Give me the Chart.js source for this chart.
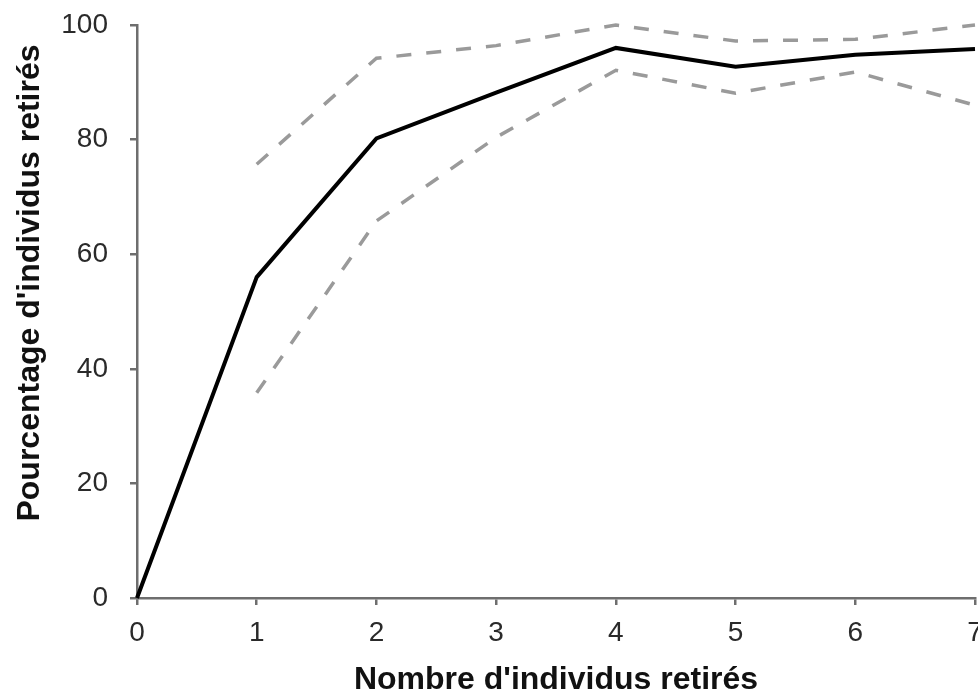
<!DOCTYPE html>
<html>
<head>
<meta charset="utf-8">
<script src="https://cdn.jsdelivr.net/npm/chart.js@4/dist/chart.umd.min.js"></script>
<style>
  html, body { margin: 0; padding: 0; background: #fff; }
  #wrap { width: 978px; height: 692px; }
</style>
</head>
<body>
<div id="wrap"><canvas id="chart"></canvas></div>
<script>
// Data
const removed = [0, 1, 2, 3, 4, 5, 6, 7];
const meanPct = [0, 56, 80.2, 88.2, 96, 92.7, 94.8, 95.8];
const upperPct = [null, 75.7, 94.2, 96.4, 100, 97.2, 97.5, 100];
const lowerPct = [null, 35.8, 65.8, 80.4, 92.1, 88.1, 91.8, 86];
const yTicks = [0, 20, 40, 60, 80, 100];
const xTitle = "Nombre d'individus retirés";
const yTitle = "Pourcentage d'individus retirés";

const font = '"Liberation Sans", Arial, sans-serif';

function toPoints(values) {
  return removed.map((x, i) => ({ x: x, y: values[i] }));
}

// y title sits a bit above the middle of the axis in the original
const yTitlePlugin = {
  id: 'yTitle',
  afterDraw(chart) {
    const ctx = chart.ctx;
    ctx.save();
    ctx.translate(30, 283);
    ctx.rotate(-Math.PI / 2);
    ctx.font = 'bold 32px ' + font;
    ctx.fillStyle = '#111';
    ctx.textAlign = 'center';
    ctx.textBaseline = 'middle';
    ctx.fillText(yTitle, 0, 0);
    ctx.restore();
  }
};

const dashed = {
  borderColor: '#9a9a9a',
  borderWidth: 3.5,
  borderDash: [15, 15],
  pointRadius: 0,
  fill: false,
  clip: false,
  spanGaps: false
};

new Chart(document.getElementById('chart'), {
  type: 'line',
  data: {
    datasets: [
      Object.assign({ label: 'upper', data: toPoints(upperPct), order: 2 }, dashed),
      Object.assign({ label: 'lower', data: toPoints(lowerPct), order: 2 }, dashed),
      {
        label: 'mean',
        data: toPoints(meanPct),
        borderColor: '#000',
        borderWidth: 4,
        pointRadius: 0,
        fill: false,
        clip: false,
        order: 1
      }
    ]
  },
  plugins: [yTitlePlugin],
  options: {
    responsive: true,
    maintainAspectRatio: false,
    animation: false,
    layout: { padding: { top: 25, right: 3, left: 0, bottom: 0 } },
    plugins: { legend: { display: false }, tooltip: { enabled: false } },
    scales: {
      x: {
        type: 'linear',
        min: 0,
        max: 7,
        afterFit: (s) => { s.height = 94; s.paddingLeft = 0; s.paddingRight = 0; },
        ticks: { stepSize: 1, padding: 11, color: '#2a2a2a', font: { family: font, size: 28 } },
        grid: { drawOnChartArea: false, drawTicks: true, tickLength: 7, color: '#6e6e6e', lineWidth: 2.5 },
        border: { display: true, color: '#6e6e6e', width: 2.5 },
        title: {
          display: true,
          text: xTitle,
          color: '#111',
          padding: { top: 0, bottom: 0 },
          font: { family: font, size: 32, weight: 'bold', lineHeight: 0.75 }
        }
      },
      y: {
        min: 0,
        max: 100,
        afterFit: (s) => { s.width = 137; s.paddingTop = 0; s.paddingBottom = 0; },
        afterBuildTicks: (s) => { s.ticks = yTicks.map(v => ({ value: v })); },
        ticks: { padding: 22, color: '#2a2a2a', font: { family: font, size: 28 } },
        grid: { drawOnChartArea: false, drawTicks: true, tickLength: 7, color: '#6e6e6e', lineWidth: 2.5 },
        border: { display: true, color: '#6e6e6e', width: 2.5 },
        title: { display: false }
      }
    }
  }
});
</script>
</body>
</html>
